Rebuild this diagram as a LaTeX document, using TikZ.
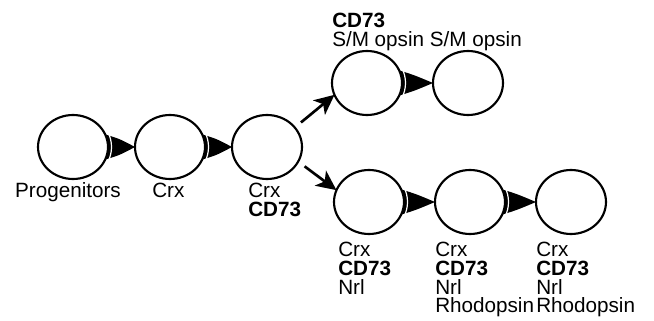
\documentclass[tikz,border=0pt]{standalone}
\usepackage{fontspec}
\setmainfont{Liberation Sans}
\usetikzlibrary{shapes.geometric,arrows.meta,calc,backgrounds}
\newcommand\dblarrow[2]{%
 \begin{scope}[on background layer]
  \fill ($(#1.east)+(-4,-13)$) .. controls ($(#1.east)+(12,-8)$) .. (#2.west)
        .. controls ($(#1.east)+(12,8)$) .. ($(#1.east)+(-4,13)$) -- cycle;
  \draw[white,line width=0.9pt] ($(#1.center)+(-24:38.5 and 35.5)$)
        arc[start angle=-24,end angle=24,x radius=38.5,y radius=35.5];
 \end{scope}}
\begin{document}
\begin{tikzpicture}[x=0.75pt,y=-0.75pt,
  cell/.style={ellipse,draw,fill=white,line width=1.6pt,minimum width=52.5pt,minimum height=48pt,inner sep=0pt,outer sep=0pt},
  lab/.style={font=\fontsize{15.5}{14}\selectfont,inner sep=0pt,align=left,anchor=north west},
  branch/.style={line width=2pt,-{Stealth[length=15pt,width=14pt,inset=4pt]},shorten <=6pt},
]
\useasboundingbox (0,0) rectangle (654,321);
\node[cell] (p) at (73,147) {};
\node[cell] (c1) at (170,147) {};
\node[cell] (c2) at (267,147) {};
\node[cell] (t1) at (367,83) {};
\node[cell] (t2) at (468,83) {};
\node[cell] (b1) at (369,202) {};
\node[cell] (b2) at (470,202) {};
\node[cell] (b3) at (571,202) {};
\dblarrow{p}{c1}
\dblarrow{c1}{c2}
\dblarrow{t1}{t2}
\dblarrow{b1}{b2}
\dblarrow{b2}{b3}
\draw[branch] (c2.35) -- (t1.200);
\draw[branch] (c2.-25) -- (b1.160);
\node[lab,anchor=north] (lp) at (68,182) {Progenitors};
\node[lab] (l1) at (152,183) {Crx};
\node[lab] (l2) at (248,183) {Crx\\\textbf{CD73}};
\node[lab] (lt) at (332,13) {\textbf{CD73}\\S/M opsin S/M opsin};
\node[lab] (lb1) at (338,242) {Crx\\\textbf{CD73}\\Nrl};
\node[lab] (lb2) at (435,242) {Crx\\\textbf{CD73}\\Nrl\\Rhodopsin};
\node[lab] (lb3) at (536,242) {Crx\\\textbf{CD73}\\Nrl\\Rhodopsin};
\end{tikzpicture}
\end{document}
